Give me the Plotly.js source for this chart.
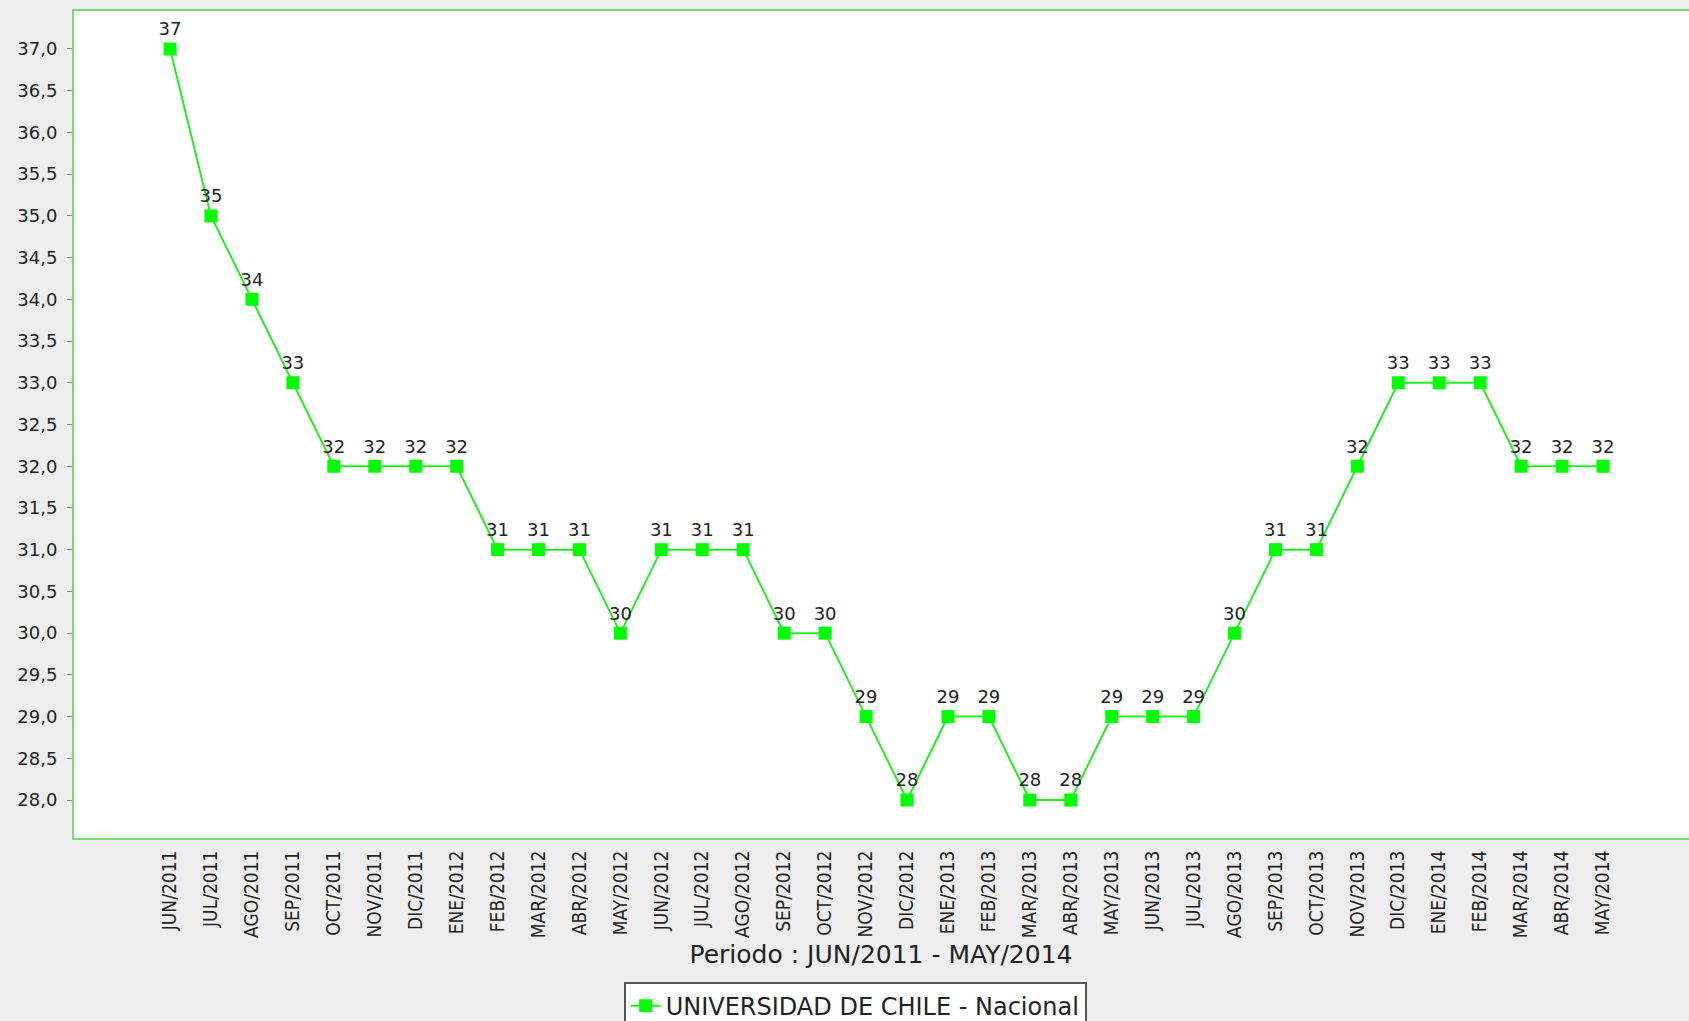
<!DOCTYPE html>
<html>
<head>
<meta charset="utf-8">
<script src="https://cdn.plot.ly/plotly-3.0.1.min.js"></script>
<style>
  html, body { margin: 0; padding: 0; background: #eeeeee; }
  #chart { width: 1689px; height: 1021px; }
</style>
</head>
<body>
<div id="chart"></div>
<script>
const periods = ["JUN/2011","JUL/2011","AGO/2011","SEP/2011","OCT/2011","NOV/2011","DIC/2011",
  "ENE/2012","FEB/2012","MAR/2012","ABR/2012","MAY/2012","JUN/2012","JUL/2012","AGO/2012","SEP/2012","OCT/2012","NOV/2012","DIC/2012",
  "ENE/2013","FEB/2013","MAR/2013","ABR/2013","MAY/2013","JUN/2013","JUL/2013","AGO/2013","SEP/2013","OCT/2013","NOV/2013","DIC/2013",
  "ENE/2014","FEB/2014","MAR/2014","ABR/2014","MAY/2014"];
const ranking = [37,35,34,33,32,32,32,
  32,31,31,31,30,31,31,31,30,30,29,28,
  29,29,28,28,29,29,29,30,31,31,32,33,
  33,33,32,32,32];
const seriesName = "UNIVERSIDAD DE CHILE - Nacional";
const yTicks = [28,28.5,29,29.5,30,30.5,31,31.5,32,32.5,33,33.5,34,34.5,35,35.5,36,36.5,37];

const trace = {
  type: "scatter",
  mode: "lines+markers+text",
  x: periods,
  y: ranking,
  name: seriesName,
  text: ranking.map(String),
  textposition: "top center",
  textfont: { family: "DejaVu Sans", size: 18, color: "#222222" },
  line: { color: "#22ee22", width: 2 },
  marker: { symbol: "square", size: 13, color: "#00ff00" },
  cliponaxis: false
};

const layout = {
  width: 1689,
  height: 1021,
  paper_bgcolor: "#eeeeee",
  plot_bgcolor: "#ffffff",
  separators: ", ",
  margin: { l: 73, r: 0, t: 10, b: 182, autoexpand: false },
  font: { family: "DejaVu Sans", color: "#222222" },
  showlegend: true,
  legend: {
    orientation: "h",
    x: 0.484, xanchor: "center",
    y: -0.172, yanchor: "top",
    bgcolor: "#ffffff",
    bordercolor: "#555555",
    borderwidth: 2,
    font: { family: "DejaVu Sans", size: 24, color: "#222222" },
    itemwidth: 30
  },
  xaxis: {
    type: "category",
    range: [-2.37, 37.1],
    tickangle: -90,
    ticks: "outside",
    ticklen: 3,
    tickcolor: "rgba(0,0,0,0)",
    showgrid: false,
    zeroline: false,
    showline: false,
    tickfont: { family: "DejaVu Sans Condensed, Liberation Sans Narrow, DejaVu Sans", size: 19, color: "#222222" },
    title: {
      text: "Periodo : " + periods[0] + " - " + periods[periods.length - 1],
      font: { family: "DejaVu Sans", size: 25, color: "#222222" },
      standoff: 8
    },
    automargin: false
  },
  yaxis: {
    range: [27.533, 37.467],
    tickmode: "array",
    tickvals: yTicks,
    tickformat: ".1f",
    ticks: "outside",
    ticklen: 5,
    tickcolor: "#888888",
    ticklabelstandoff: 6,
    showgrid: false,
    zeroline: false,
    showline: false,
    tickfont: { family: "DejaVu Sans", size: 18, color: "#222222" },
    automargin: false
  },
  shapes: [{
    type: "rect", xref: "paper", yref: "paper",
    x0: 0, x1: 1.02, y0: 0, y1: 1,
    line: { color: "#77dd77", width: 2 },
    fillcolor: "rgba(0,0,0,0)",
    layer: "above"
  }]
};

Plotly.newPlot("chart", [trace], layout, { displayModeBar: false, staticPlot: true });
</script>
</body>
</html>
